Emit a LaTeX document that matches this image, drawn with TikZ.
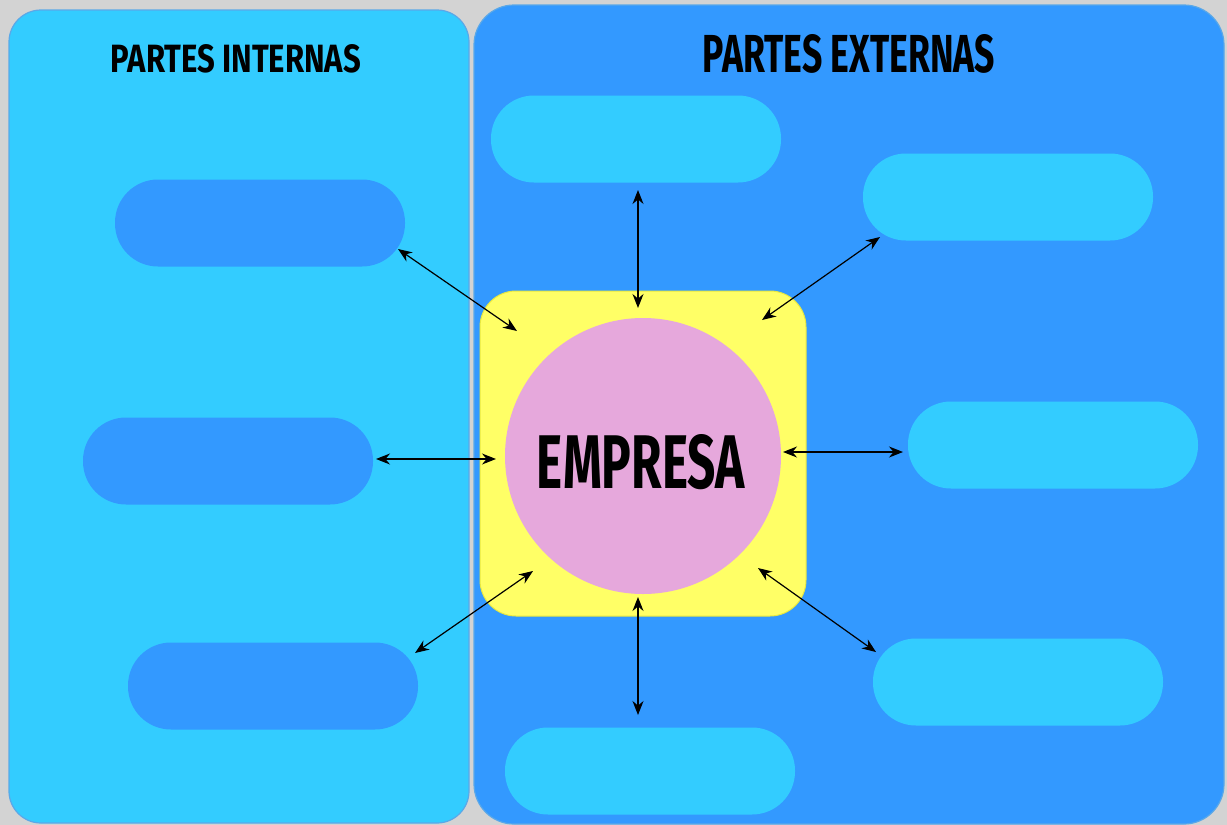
\documentclass[tikz,border=0pt]{standalone}
\usepackage{fontspec}
\setmainfont{Fira Sans}
\usetikzlibrary{arrows.meta}
\definecolor{bgray}{HTML}{D3D3D3}
\definecolor{lightb}{HTML}{33CCFF}
\definecolor{darkb}{HTML}{3399FF}
\definecolor{edgeb}{HTML}{5AA8E8}
\definecolor{yel}{HTML}{FFFF66}
\definecolor{yeledge}{HTML}{E8E840}
\definecolor{pink}{HTML}{E6A8DC}
\tikzset{
  panel/.style={rounded corners=32pt, draw=edgeb, line width=1.2pt},
  pillin/.style={rectangle, rounded corners=43pt, fill=darkb, minimum width=290pt, minimum height=87pt, inner sep=0pt},
  pillout/.style={rectangle, rounded corners=43pt, fill=lightb, minimum width=290pt, minimum height=87pt, inner sep=0pt},
  link/.style={{Stealth[length=14pt,width=11pt]}-{Stealth[length=14pt,width=11pt]}, line width=1.2pt, black},
  title/.style={inner sep=0pt, text=black}
}
\begin{document}
\begin{tikzpicture}[x=1pt,y=-1pt]
\fill[bgray] (0,0) rectangle (1227,825);
\useasboundingbox (0,0) rectangle (1227,825);
% panels
\draw[panel, fill=lightb] (9,10) rectangle (469,823);
\draw[panel, fill=darkb, rounded corners=40pt] (474,5) rectangle (1224,824);
% titles
\node[title] (tin) at (236,59) {\resizebox{250pt}{28pt}{\bfseries PARTES INTERNAS}};
\node[title] (tex) at (849,54) {\resizebox{292pt}{38pt}{\bfseries PARTES EXTERNAS}};
% internal pills
\node[pillin] (i1) at (260,223) {};
\node[pillin] (i2) at (228,461) {};
\node[pillin] (i3) at (273,686) {};
% external pills
\node[pillout] (e1) at (636,139) {};
\node[pillout] (e2) at (1008,197) {};
\node[pillout] (e3) at (1053,445) {};
\node[pillout] (e4) at (1018,682) {};
\node[pillout] (e5) at (650,771) {};
% center
\draw[fill=yel, draw=yeledge, line width=1pt, rounded corners=36pt] (480,291) rectangle (806,616);
\node[circle, fill=pink, minimum size=276pt, inner sep=0pt] (circ) at (643,456) {};
\node[title] (emp) at (641,462) {\resizebox{208pt}{54pt}{\bfseries EMPRESA}};
% arrow end points
\coordinate (a1s) at (638,190); \coordinate (a1e) at (638,308);
\coordinate (a2s) at (880,237); \coordinate (a2e) at (762,320);
\coordinate (a3s) at (398,249); \coordinate (a3e) at (517,331);
\coordinate (a4s) at (376,459); \coordinate (a4e) at (496,459);
\coordinate (a5s) at (903,452); \coordinate (a5e) at (783,452);
\coordinate (a6s) at (415,653); \coordinate (a6e) at (533,571);
\coordinate (a7s) at (638,715); \coordinate (a7e) at (638,597);
\coordinate (a8s) at (876,652); \coordinate (a8e) at (758,568);
\draw[link] (a1s) -- (a1e);
\draw[link] (a2s) -- (a2e);
\draw[link] (a3s) -- (a3e);
\draw[link] (a4s) -- (a4e);
\draw[link] (a5s) -- (a5e);
\draw[link] (a6s) -- (a6e);
\draw[link] (a7s) -- (a7e);
\draw[link] (a8s) -- (a8e);
\end{tikzpicture}
\end{document}
